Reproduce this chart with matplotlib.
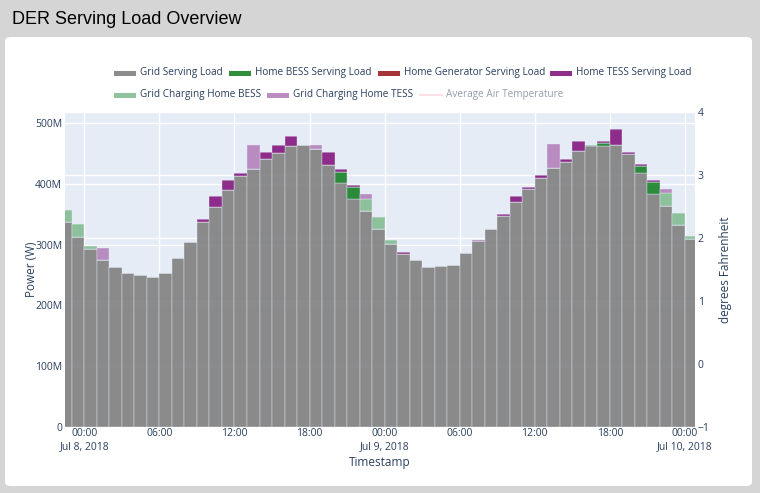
import numpy as np
import pandas as pd
import matplotlib
matplotlib.use("Agg")
import matplotlib.pyplot as plt
from matplotlib.patches import FancyBboxPatch, Rectangle
from matplotlib.lines import Line2D

# hourly bars, 22:00 Jul 7 .. 00:00 Jul 10 (values in MW -> scaled to W below)
grid_serving = [337, 313, 292, 274, 263, 253, 249.5, 246, 254, 277.5, 304.4,
                337.8, 362.6, 390.6, 413.2, 424.7, 440.7, 451.6, 462.1, 463.7, 457.6,
                431.6, 401.6, 375.2, 355.5, 325.8,
                301.6, 284.6, 274.2, 263.2, 264.3, 266, 286.8, 305.5, 325.3, 347.2,
                369.8, 391.7, 410.4, 426.8, 436.2, 454.8, 463.1, 463.1, 463.7, 449.4,
                417.6, 384, 364.2, 331.9, 309.3]
bess_serving = [0] * 51
for i, v in {19: 1, 22: 18.7, 23: 19.3, 42: 1.6, 43: 5, 46: 12, 47: 19.3}.items():
    bess_serving[i] = v
gen_serving = [0] * 51
tess_serving = [0] * 51
for i, v in {11: 5, 12: 17.6, 13: 15.4, 14: 4.4, 16: 11.5, 17: 12.6, 18: 17,
             21: 21, 22: 3.9, 23: 3.3, 27: 3.3, 33: 2.2, 35: 3.3, 36: 10.4,
             37: 3.8, 38: 4.9, 40: 5.5, 41: 16, 43: 2.8, 44: 27, 45: 3.3,
             46: 3.8, 47: 3.3}.items():
    tess_serving[i] = v
grid_charging_bess = [0] * 51
for i, v in {0: 20, 1: 20.5, 2: 5, 24: 19.7, 25: 19.8, 26: 5.6,
             48: 20.4, 49: 19.8, 50: 5}.items():
    grid_charging_bess[i] = v
grid_charging_tess = [0] * 51
for i, v in {3: 20, 15: 39, 20: 6.6, 24: 7.8, 39: 39, 48: 7.6}.items():
    grid_charging_tess[i] = v

times = pd.date_range("2018-07-07 22:30", periods=51, freq="h")

series = [
    ("Grid Serving Load", grid_serving, "#808080"),
    ("Home BESS Serving Load", bess_serving, "#188127"),
    ("Home Generator Serving Load", gen_serving, "#9c1f24"),
    ("Home TESS Serving Load", tess_serving, "#84177e"),
    ("Grid Charging Home BESS", grid_charging_bess, "#82bd92"),
    ("Grid Charging Home TESS", grid_charging_tess, "#b481bc"),
]

TXT = "#2a3f5f"
BG = "#e5ecf6"
plt.rcParams["font.family"] = ["Open Sans", "DejaVu Sans"]

W, H = 760, 493
fig = plt.figure(figsize=(7.6, 4.93), dpi=100)
fig.patch.set_facecolor("#d5d5d5")

def fx(x):
    return x / W

def fy(y):
    return 1 - y / H

# white card
card = FancyBboxPatch((fx(5), fy(486)), fx(747), (486 - 37) / H,
                      boxstyle="round,pad=0,rounding_size=0.008",
                      transform=fig.transFigure, facecolor="white",
                      edgecolor="none", zorder=-5)
fig.patches.append(card)
fig.text(fx(12), fy(19), "DER Serving Load Overview", fontsize=13,
         family="Liberation Sans", color="black", va="center", ha="left")

ax = fig.add_axes([fx(65), fy(426.7), fx(695 - 65), (426.7 - 112.3) / H])
ax2 = ax.twinx()
ax2.set_zorder(1)
ax.set_zorder(2)
ax.patch.set_visible(False)
ax2.patch.set_visible(True)
ax2.patch.set_facecolor(BG)

bottom = np.zeros(len(times))
for name, vals, col in series:
    v = np.array(vals, dtype=float) * 1e6
    ax.bar(times, v, width=1 / 24, bottom=bottom, color=col, alpha=0.9,
           edgecolor=BG, linewidth=0.3, label=name)
    bottom += v

ax.set_ylim(0, 518e6)
yt = np.arange(0, 501e6, 100e6)
ax.set_yticks(yt)
ax.set_yticklabels(["0" if t == 0 else f"{int(t / 1e6)}M" for t in yt])
ax.set_xlim(pd.Timestamp("2018-07-07 22:27"), pd.Timestamp("2018-07-10 00:49"))
ticks = pd.date_range("2018-07-08 00:00", "2018-07-10 00:00", freq="6h")
ax.set_xticks(ticks)
ax.set_xticklabels([t.strftime("%H:%M") + ("\n" + t.strftime("%b ") + str(t.day) + t.strftime(", %Y") if t.hour == 0 else "") for t in ticks])
ax.set_axisbelow(True)
ax.grid(True, color="white", linewidth=1)
ax.tick_params(length=0, labelsize=7.5, labelcolor=TXT, pad=1)
ax.tick_params(axis="y", pad=2)

ax2.set_ylim(-1, 4)
ax2.set_yticks([-1, 0, 1, 2, 3, 4])
ax2.grid(True, axis="y", color="white", linewidth=1)
ax2.tick_params(length=0, labelsize=7.5, labelcolor=TXT, pad=2)

for a in (ax, ax2):
    for s in a.spines.values():
        s.set_visible(False)

ax.set_ylabel("Power (W)", fontsize=8.5, color=TXT)
ax.yaxis.set_label_coords((38 - 65) / 630, 0.5)
ax.set_xlabel("Timestamp", fontsize=8.5, color=TXT, labelpad=3)
ax2.set_ylabel("degrees Fahrenheit", fontsize=8.5, color=TXT, rotation=90)
ax2.yaxis.set_label_coords((719 - 65) / 630, 0.5)

# legend, laid out as in the original
legend_rows = [
    (73, [(114, 0), (229, 1), (378, 2), (550, 3)]),
    (95, [(114, 4), (267, 5)]),
]
for yy, items in legend_rows:
    for x0, k in items:
        name, _, col = series[k]
        fig.patches.append(Rectangle((fx(x0), fy(yy + 2.5)), fx(22), 5 / H,
                                     transform=fig.transFigure, facecolor=col,
                                     alpha=0.9, edgecolor="none"))
        fig.text(fx(x0 + 26), fy(yy), name, fontsize=7.2, color=TXT,
                 va="center", ha="left")
fig.lines.append(Line2D([fx(420), fx(442)], [fy(95), fy(95)], transform=fig.transFigure,
                        color="#ffc0cb", linewidth=1.2, alpha=0.6))
fig.text(fx(446), fy(95), "Average Air Temperature", fontsize=7.2, color=TXT,
         alpha=0.5, va="center", ha="left")

fig.savefig("out.png", dpi=100, facecolor=fig.get_facecolor())
